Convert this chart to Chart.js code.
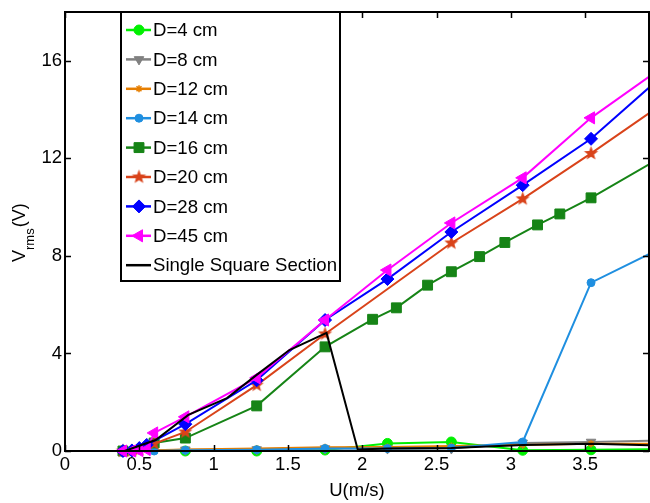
<!DOCTYPE html>
<html>
<head>
<meta charset="utf-8">
<script src="https://cdn.jsdelivr.net/npm/chart.js@4.4.0/dist/chart.umd.min.js"></script>
<style>
  html, body { margin: 0; padding: 0; background: #fff; }
</style>
</head>
<body>
<canvas id="grafico" width="650" height="503"></canvas>
<script>
// valores (U em m/s, Vrms em V)
var nomes = ['D=4 cm', 'D=8 cm', 'D=12 cm', 'D=14 cm', 'D=16 cm', 'D=20 cm', 'D=28 cm', 'D=45 cm', 'Single Square Section'];

var uD4 = [0.39, 0.81, 1.29, 1.75, 2.17, 2.6, 3.08, 3.54, 4.0];
var vD4 = [0, 0, 0, 0.04, 0.31, 0.37, 0.03, 0.05, 0.08];
var uD8 = [0.39, 0.81, 1.29, 1.75, 2.17, 2.6, 3.08, 3.54, 4.0];
var vD8 = [0, 0.05, 0.06, 0.1, 0.1, 0.1, 0.33, 0.37, 0.43];
var uD12 = [0.39, 0.81, 1.29, 1.75, 2.17, 2.6, 3.08, 3.54, 4.0];
var vD12 = [0, 0.06, 0.1, 0.15, 0.16, 0.2, 0.25, 0.3, 0.3];
var uD14 = [0.39, 0.6, 0.81, 1.29, 1.75, 2.17, 2.6, 3.08, 3.54, 4.0];
var vD14 = [0, 0, 0.03, 0.05, 0.1, 0.1, 0.12, 0.37, 6.9, 8.28];
var uD16 = [0.39, 0.6, 0.81, 1.29, 1.75, 2.07, 2.23, 2.44, 2.6, 2.79, 2.96, 3.18, 3.33, 3.54, 4.0];
var vD16 = [0, 0.33, 0.53, 1.85, 4.27, 5.4, 5.87, 6.8, 7.35, 7.97, 8.55, 9.27, 9.72, 10.38, 12.0];
var uD20 = [0.39, 0.45, 0.5, 0.6, 0.81, 1.29, 1.75, 2.6, 3.08, 3.54, 4.0];
var vD20 = [0, 0, 0.05, 0.3, 0.78, 2.7, 4.8, 8.53, 10.34, 12.2, 14.14];
var uD28 = [0.39, 0.45, 0.5, 0.55, 0.81, 1.29, 1.75, 2.17, 2.6, 3.08, 3.54, 4.0];
var vD28 = [0, 0.02, 0.12, 0.25, 1.1, 2.9, 5.37, 7.05, 8.98, 10.9, 12.8, 15.28];
var uD45 = [0.39, 0.45, 0.5, 0.55, 0.6, 0.81, 1.29, 1.75, 2.17, 2.6, 3.08, 3.54, 4.0];
var vD45 = [0, 0, 0.02, 0.06, 0.74, 1.4, 3.0, 5.37, 7.42, 9.35, 11.2, 13.66, 15.65];
var uQuad = [0.4, 0.61, 0.83, 1.09, 1.29, 1.51, 1.76, 1.97, 2.17, 2.6, 3.08, 3.54, 4.0];
var vQuad = [0, 0.45, 1.48, 2.17, 3.12, 4.14, 4.84, 0.06, 0.1, 0.12, 0.25, 0.3, 0.22];

var ticksX = [0, 0.5, 1, 1.5, 2, 2.5, 3, 3.5];
var ticksY = [0, 4, 8, 12, 16];

var fonte = '"Liberation Sans", Arial, Helvetica, sans-serif';

function pontos(u, v) {
    var arr = [];
    for (let i = 0; i < u.length; i++) arr.push({ x: u[i], y: v[i] });
    return arr;
}

// estrela cheia (pentagrama do matlab)
function estrela(cor, r) {
    var c = document.createElement('canvas');
    var s = Math.ceil(r * 2 + 2);
    c.width = s; c.height = s;
    var g = c.getContext('2d');
    g.fillStyle = cor;
    g.beginPath();
    for (let k = 0; k < 10; k++) {
        var rr = k % 2 ? r * 0.42 : r;
        var a = -Math.PI / 2 + k * Math.PI / 5;
        g.lineTo(s / 2 + rr * Math.cos(a), s / 2 + rr * Math.sin(a));
    }
    g.closePath();
    g.fill();
    return c;
}

var estilos = [
    { cor: '#00f000', ponto: 'circle', raio: 5, rot: 0 },
    { cor: '#808080', ponto: 'triangle', raio: 5.5, rot: 180 },
    { cor: '#e67e00', ponto: 'star', raio: 3.5, rot: 0 },
    { cor: '#1f8fe0', ponto: 'circle', raio: 4, rot: 0 },
    { cor: '#168416', ponto: 'rect', raio: 7, rot: 0 },
    { cor: '#d9431a', ponto: estrela('#d9431a', 7.5), raio: 7, rot: 0 },
    { cor: '#0000ff', ponto: 'rectRot', raio: 6.5, rot: 0 },
    { cor: '#ff00ff', ponto: 'triangle', raio: 7, rot: -90 },
    { cor: '#000000', ponto: 'circle', raio: 0, rot: 0 }
];

var series = [
    pontos(uD4, vD4), pontos(uD8, vD8), pontos(uD12, vD12), pontos(uD14, vD14),
    pontos(uD16, vD16), pontos(uD20, vD20), pontos(uD28, vD28), pontos(uD45, vD45),
    pontos(uQuad, vQuad)
];

var datasets = series.map(function (dados, i) {
    var e = estilos[i];
    return {
        label: nomes[i],
        data: dados,
        showLine: true,
        borderColor: e.cor,
        backgroundColor: e.cor,
        borderWidth: 2,
        pointStyle: e.ponto,
        pointRadius: e.raio,
        pointRotation: e.rot,
        pointBackgroundColor: e.cor,
        pointBorderColor: e.cor,
        pointBorderWidth: e.ponto === 'star' ? 1.5 : 1,
        pointHoverRadius: e.raio,
        order: series.length - i,
        clip: { left: 10, top: 0, right: 0, bottom: 8 }
    };
});

// moldura e marcas de escala para dentro (estilo matlab)
var molduraPlugin = {
    id: 'moldura',
    afterDatasetsDraw: function (chart) {
        var ctx = chart.ctx;
        var a = chart.chartArea;
        var sx = chart.scales.x, sy = chart.scales.y;
        ctx.save();
        ctx.strokeStyle = '#000';
        ctx.lineWidth = 1.5;
        ctx.beginPath();
        ticksX.forEach(function (v) {
            var px = Math.round(sx.getPixelForValue(v)) + 0.5;
            ctx.moveTo(px, a.bottom); ctx.lineTo(px, a.bottom - 6);
            ctx.moveTo(px, a.top); ctx.lineTo(px, a.top + 6);
        });
        ticksY.forEach(function (v) {
            var py = Math.round(sy.getPixelForValue(v)) + 0.5;
            ctx.moveTo(a.left, py); ctx.lineTo(a.left + 6, py);
            ctx.moveTo(a.right, py); ctx.lineTo(a.right - 6, py);
        });
        ctx.stroke();
        ctx.lineWidth = 2;
        ctx.strokeRect(a.left, a.top, a.right - a.left, a.bottom - a.top);
        ctx.restore();
    }
};

var legendaPlugin = {
    id: 'legenda',
    afterDraw: function (chart) {
        var ctx = chart.ctx;
        var top = chart.chartArea.top;
        ctx.save();
        ctx.fillStyle = '#fff';
        ctx.fillRect(121, top, 219, 269);
        ctx.strokeStyle = '#000';
        ctx.lineWidth = 2;
        ctx.strokeRect(121, top, 219, 269);
        chart.data.datasets.forEach(function (ds, i) {
            var y = top + 18 + i * 29.4;
            ctx.strokeStyle = ds.borderColor;
            ctx.lineWidth = 2.5;
            ctx.beginPath();
            ctx.moveTo(126, y); ctx.lineTo(151, y);
            ctx.stroke();
            if (ds.pointRadius > 0 && Chart.helpers && Chart.helpers.drawPoint) {
                ctx.fillStyle = ds.pointBackgroundColor;
                ctx.strokeStyle = ds.pointBorderColor;
                ctx.lineWidth = ds.pointBorderWidth;
                Chart.helpers.drawPoint(ctx, {
                    pointStyle: ds.pointStyle,
                    rotation: ds.pointRotation,
                    radius: ds.pointRadius,
                    borderWidth: ds.pointBorderWidth
                }, 139, y);
            }
            ctx.fillStyle = '#000';
            ctx.font = '18.6px ' + fonte;
            ctx.textBaseline = 'middle';
            ctx.textAlign = 'left';
            ctx.fillText(ds.label, 153, y + 1);
        });
        ctx.restore();
    }
};

// titulo do eixo y com subscrito
var tituloYPlugin = {
    id: 'tituloY',
    afterDraw: function (chart) {
        var ctx = chart.ctx;
        ctx.save();
        ctx.translate(25, 262);
        ctx.rotate(-Math.PI / 2);
        ctx.fillStyle = '#000';
        ctx.textBaseline = 'alphabetic';
        ctx.textAlign = 'left';
        ctx.font = '18px ' + fonte;
        ctx.fillText('V', 0, 0);
        var w = ctx.measureText('V').width;
        ctx.font = '13px ' + fonte;
        ctx.fillText('rms', w, 9);
        w += ctx.measureText('rms').width + 1;
        ctx.font = '18px ' + fonte;
        ctx.fillText('(V)', w, 0);
        ctx.restore();
    }
};

function rotulo(v) { return String(v); }

var ctx = document.getElementById('grafico').getContext('2d');
var grafico = new Chart(ctx, {
    type: 'scatter',
    data: { datasets: datasets },
    plugins: [molduraPlugin, legendaPlugin, tituloYPlugin],
    options: {
        responsive: false,
        devicePixelRatio: 1,
        animation: false,
        events: [],
        layout: { autoPadding: false, padding: { top: 12, right: 1, left: 0, bottom: 0 } },
        plugins: {
            legend: { display: false },
            tooltip: { enabled: false }
        },
        scales: {
            x: {
                type: 'linear',
                min: 0,
                max: 3.93,
                grid: { display: false, drawTicks: false },
                border: { display: false },
                afterBuildTicks: function (s) { s.ticks = ticksX.map(function (v) { return { value: v }; }); },
                afterFit: function (s) { s.height = 52; s.paddingLeft = 0; s.paddingRight = 0; },
                ticks: {
                    color: '#000',
                    font: { family: fonte, size: 18.5 },
                    padding: 3,
                    maxRotation: 0,
                    autoSkip: false,
                    callback: rotulo
                },
                title: {
                    display: true,
                    text: 'U(m/s)',
                    color: '#000',
                    font: { family: fonte, size: 18.5 },
                    padding: { top: 0, bottom: 1 }
                }
            },
            y: {
                type: 'linear',
                min: 0,
                max: 18,
                grid: { display: false, drawTicks: false },
                border: { display: false },
                afterBuildTicks: function (s) { s.ticks = ticksY.map(function (v) { return { value: v }; }); },
                afterFit: function (s) { s.width = 65; s.paddingTop = 0; s.paddingBottom = 0; },
                ticks: {
                    color: '#000',
                    font: { family: fonte, size: 18.5 },
                    padding: 3,
                    autoSkip: false,
                    callback: rotulo
                }
            }
        }
    }
});
</script>
</body>
</html>
